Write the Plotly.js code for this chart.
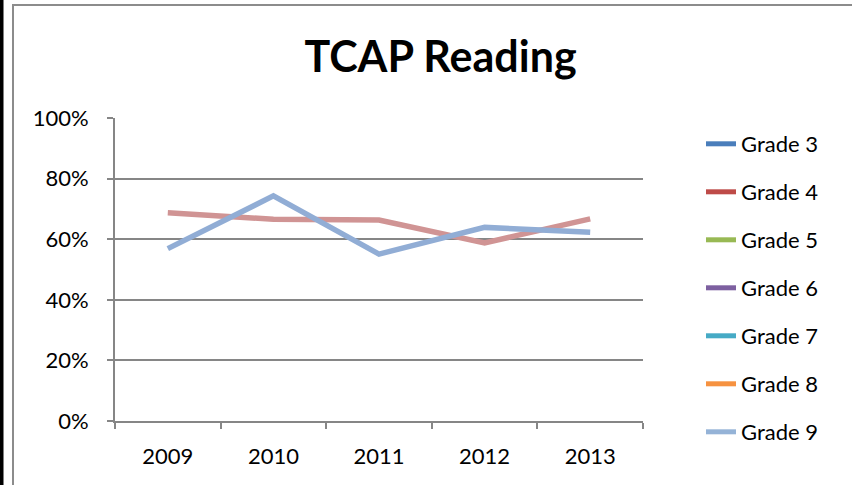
<!DOCTYPE html>
<html><head><meta charset="utf-8">
<script src="https://cdn.plot.ly/plotly-3.0.1.min.js"></script>
<style>html,body{margin:0;padding:0;background:#fff}#chart{width:852px;height:485px}</style>
</head><body><div id="chart"></div>
<script>
const years = ['2009','2010','2011','2012','2013'];
const grades = ['Grade 3','Grade 4','Grade 5','Grade 6','Grade 7','Grade 8','Grade 9'];
const legendColors = ['#4A7EBB','#BE4B48','#98B954','#7D60A0','#46AAC5','#F69240','#95B3D7'];
const grade4Values = [0.687, 0.666, 0.663, 0.588, 0.667];
const grade9Values = [0.569, 0.743, 0.551, 0.639, 0.623];
const seriesValues = {'Grade 4': grade4Values, 'Grade 9': grade9Values};
const lineColors = {'Grade 4': '#D09494', 'Grade 9': '#91ADD5'};
const yTicks = [0, 0.2, 0.4, 0.6, 0.8, 1.0];
const yTickText = ['0%','20%','40%','60%','80%','100%'];

const W = 852, H = 485, L = 115, R = 643, T = 118, B = 421;
const px = x => (x - L) / (R - L);
const py = y => (B - y) / (B - T);

const FONT = 'Lato, "Liberation Sans", sans-serif';
const traces = [];
Object.keys(seriesValues).forEach(g => {
  traces.push({x: years, y: seriesValues[g], type: 'scatter', mode: 'lines', name: g,
    showlegend: false, line: {color: lineColors[g], width: 5.5}, hoverinfo: 'x+y'});
});
grades.forEach((g, i) => {
  traces.push({x: [years[0]], y: [null], type: 'scatter', mode: 'lines', name: g,
    legendgroup: g, line: {color: legendColors[i], width: 5}});
});

const shapes = [
  {type:'rect', xref:'paper', yref:'paper', x0: px(0), x1: px(3.5), y0: py(H), y1: py(0), fillcolor:'#000', line:{width:0}},
  {type:'line', xref:'paper', yref:'paper', x0: px(13), x1: px(13), y0: py(H), y1: py(4), line:{color:'#8C8C8C', width:2}},
  {type:'line', xref:'paper', yref:'paper', x0: px(12), x1: px(W), y0: py(5), y1: py(5), line:{color:'#8C8C8C', width:2}}
];

const layout = {
  width: W, height: H,
  margin: {l: L, r: W - R, t: T, b: H - B, pad: 0},
  paper_bgcolor: '#fff', plot_bgcolor: '#fff',
  font: {family: FONT, size: 22, color: '#000'},
  title: {text: '<b>TCAP Reading</b>', font: {family: FONT, size: 43, color: '#000'},
    xref: 'container', x: 440.5 / W, xanchor: 'center', yref: 'container', y: 1 - 57 / H, yanchor: 'middle'},
  xaxis: {type: 'category', range: [-0.5, 4.5], tickson: 'boundaries', ticks: 'outside', ticklen: 6,
    tickcolor: '#868686', tickwidth: 2, showline: true, linecolor: '#868686', linewidth: 2,
    showgrid: false, zeroline: false, ticklabelstandoff: 15, tickfont: {size: 22, family: FONT}, fixedrange: true},
  yaxis: {range: [0, 1], tickvals: yTicks, ticktext: yTickText, ticks: 'outside', ticklen: 6,
    tickcolor: '#868686', tickwidth: 2, showline: true, linecolor: '#868686', linewidth: 2,
    showgrid: true, gridcolor: '#868686', gridwidth: 2, zeroline: false, ticklabelstandoff: 14,
    tickfont: {size: 22, family: FONT}, fixedrange: true},
  legend: {x: px(701), xanchor: 'left', y: py(123), yanchor: 'top', tracegroupgap: 16.4, maxheight: 400,
    font: {family: FONT, size: 22, color: '#000'}, bgcolor: 'rgba(0,0,0,0)', borderwidth: 0},
  shapes: shapes,
  showlegend: true
};
Plotly.newPlot('chart', traces, layout, {displayModeBar: false, staticPlot: true});
</script></body></html>
